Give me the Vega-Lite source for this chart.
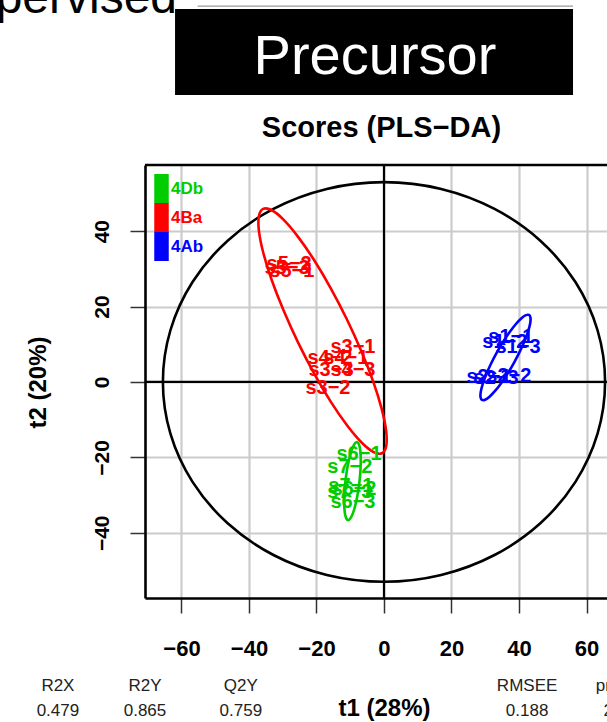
{
  "$schema": "https://vega.github.io/schema/vega-lite/v6.json",
  "width": 462,
  "height": 433,
  "autosize": {"type": "none"},
  "padding": {"left": 145, "top": 165, "right": 0, "bottom": 124},
  "background": "white",
  "config": {
    "view": {"stroke": null},
    "font": "Liberation Sans",
    "axis": {"grid": true, "gridColor": "#cccccc", "gridWidth": 2.2, "tickSize": 15, "tickColor": "#333333", "tickWidth": 1.5, "domainColor": "black", "domainWidth": 2.6,
      "labelFontSize": 22, "labelFontWeight": "bold", "labelColor": "black", "labelFont": "Liberation Sans", "labelFlush": false, "labelOverlap": false,
      "titleFont": "Liberation Sans", "titleFontSize": 24, "titleFontWeight": "bold", "titleColor": "black"},
    "axisX": {"tickCount": 7, "labelBaseline": "alphabetic", "labelPadding": 42, "titleX": 239, "titleY": 117, "titleBaseline": "alphabetic", "titleAlign": "center"},
    "axisY": {"tickCount": 5, "labelAngle": 270, "labelAlign": "center", "labelBaseline": "alphabetic", "labelPadding": 22, "labelFontSize": 21, "titleX": -100, "titleY": 217, "titleAngle": 270, "titleBaseline": "alphabetic", "titleAlign": "center"}
  },
  "datasets": {
    "hot": [
      {"ord": 0, "x": 65.5, "y": 0}, {"ord": 1, "x": 63.27, "y": 13.72}, {"ord": 2, "x": 56.72, "y": 26.5}, {"ord": 3, "x": 46.32, "y": 37.48},
      {"ord": 4, "x": 32.75, "y": 45.9}, {"ord": 5, "x": 16.95, "y": 51.19}, {"ord": 6, "x": 0, "y": 53}, {"ord": 7, "x": -16.95, "y": 51.19},
      {"ord": 8, "x": -32.75, "y": 45.9}, {"ord": 9, "x": -46.32, "y": 37.48}, {"ord": 10, "x": -56.72, "y": 26.5}, {"ord": 11, "x": -63.27, "y": 13.72},
      {"ord": 12, "x": -65.5, "y": 0}, {"ord": 13, "x": -63.27, "y": -13.72}, {"ord": 14, "x": -56.72, "y": -26.5}, {"ord": 15, "x": -46.32, "y": -37.48},
      {"ord": 16, "x": -32.75, "y": -45.9}, {"ord": 17, "x": -16.95, "y": -51.19}, {"ord": 18, "x": 0, "y": -53}, {"ord": 19, "x": 16.95, "y": -51.19},
      {"ord": 20, "x": 32.75, "y": -45.9}, {"ord": 21, "x": 46.32, "y": -37.48}, {"ord": 22, "x": 56.72, "y": -26.5}, {"ord": 23, "x": 63.27, "y": -13.72}
    ],
    "ell": [
      {"grp": "4Ba", "ord": 0, "x": -35.8, "y": 45.9}, {"grp": "4Ba", "ord": 1, "x": -33.34, "y": 45.61}, {"grp": "4Ba", "ord": 2, "x": -29.84, "y": 43.13},
      {"grp": "4Ba", "ord": 3, "x": -25.56, "y": 38.62}, {"grp": "4Ba", "ord": 4, "x": -20.76, "y": 32.41}, {"grp": "4Ba", "ord": 5, "x": -15.8, "y": 24.91},
      {"grp": "4Ba", "ord": 6, "x": -11.0, "y": 16.63}, {"grp": "4Ba", "ord": 7, "x": -6.7, "y": 8.13}, {"grp": "4Ba", "ord": 8, "x": -3.16, "y": 0.01},
      {"grp": "4Ba", "ord": 9, "x": -0.66, "y": -7.2}, {"grp": "4Ba", "ord": 10, "x": 0.64, "y": -13.0}, {"grp": "4Ba", "ord": 11, "x": 0.66, "y": -16.99},
      {"grp": "4Ba", "ord": 12, "x": -0.6, "y": -18.9}, {"grp": "4Ba", "ord": 13, "x": -3.06, "y": -18.61}, {"grp": "4Ba", "ord": 14, "x": -6.56, "y": -16.13},
      {"grp": "4Ba", "ord": 15, "x": -10.84, "y": -11.62}, {"grp": "4Ba", "ord": 16, "x": -15.64, "y": -5.41}, {"grp": "4Ba", "ord": 17, "x": -20.6, "y": 2.09},
      {"grp": "4Ba", "ord": 18, "x": -25.4, "y": 10.37}, {"grp": "4Ba", "ord": 19, "x": -29.7, "y": 18.87}, {"grp": "4Ba", "ord": 20, "x": -33.24, "y": 26.99},
      {"grp": "4Ba", "ord": 21, "x": -35.74, "y": 34.2}, {"grp": "4Ba", "ord": 22, "x": -37.04, "y": 40.0}, {"grp": "4Ba", "ord": 23, "x": -37.06, "y": 43.99},
      {"grp": "4Ab", "ord": 0, "x": 42.96, "y": 17.77}, {"grp": "4Ab", "ord": 1, "x": 43.39, "y": 17.06}, {"grp": "4Ab", "ord": 2, "x": 43.33, "y": 15.62},
      {"grp": "4Ab", "ord": 3, "x": 42.75, "y": 13.56}, {"grp": "4Ab", "ord": 4, "x": 41.72, "y": 11.03}, {"grp": "4Ab", "ord": 5, "x": 40.3, "y": 8.18},
      {"grp": "4Ab", "ord": 6, "x": 38.59, "y": 5.22}, {"grp": "4Ab", "ord": 7, "x": 36.7, "y": 2.34}, {"grp": "4Ab", "ord": 8, "x": 34.76, "y": -0.25},
      {"grp": "4Ab", "ord": 9, "x": 32.91, "y": -2.38}, {"grp": "4Ab", "ord": 10, "x": 31.27, "y": -3.9}, {"grp": "4Ab", "ord": 11, "x": 29.95, "y": -4.72},
      {"grp": "4Ab", "ord": 12, "x": 29.04, "y": -4.77}, {"grp": "4Ab", "ord": 13, "x": 28.61, "y": -4.06}, {"grp": "4Ab", "ord": 14, "x": 28.67, "y": -2.62},
      {"grp": "4Ab", "ord": 15, "x": 29.25, "y": -0.56}, {"grp": "4Ab", "ord": 16, "x": 30.28, "y": 1.97}, {"grp": "4Ab", "ord": 17, "x": 31.7, "y": 4.82},
      {"grp": "4Ab", "ord": 18, "x": 33.41, "y": 7.78}, {"grp": "4Ab", "ord": 19, "x": 35.3, "y": 10.66}, {"grp": "4Ab", "ord": 20, "x": 37.24, "y": 13.25},
      {"grp": "4Ab", "ord": 21, "x": 39.09, "y": 15.38}, {"grp": "4Ab", "ord": 22, "x": 40.73, "y": 16.9}, {"grp": "4Ab", "ord": 23, "x": 42.05, "y": 17.72},
      {"grp": "4Db", "ord": 0, "x": -8.0, "y": -15.96}, {"grp": "4Db", "ord": 1, "x": -7.52, "y": -16.36}, {"grp": "4Db", "ord": 2, "x": -7.15, "y": -17.46},
      {"grp": "4Db", "ord": 3, "x": -6.93, "y": -19.14}, {"grp": "4Db", "ord": 4, "x": -6.88, "y": -21.31}, {"grp": "4Db", "ord": 5, "x": -7.0, "y": -23.82},
      {"grp": "4Db", "ord": 6, "x": -7.27, "y": -26.51}, {"grp": "4Db", "ord": 7, "x": -7.68, "y": -29.18}, {"grp": "4Db", "ord": 8, "x": -8.22, "y": -31.65},
      {"grp": "4Db", "ord": 9, "x": -8.81, "y": -33.76}, {"grp": "4Db", "ord": 10, "x": -9.45, "y": -35.36}, {"grp": "4Db", "ord": 11, "x": -10.08, "y": -36.34},
      {"grp": "4Db", "ord": 12, "x": -10.66, "y": -36.64}, {"grp": "4Db", "ord": 13, "x": -11.14, "y": -36.24}, {"grp": "4Db", "ord": 14, "x": -11.51, "y": -35.14},
      {"grp": "4Db", "ord": 15, "x": -11.73, "y": -33.46}, {"grp": "4Db", "ord": 16, "x": -11.78, "y": -31.29}, {"grp": "4Db", "ord": 17, "x": -11.66, "y": -28.78},
      {"grp": "4Db", "ord": 18, "x": -11.39, "y": -26.09}, {"grp": "4Db", "ord": 19, "x": -10.98, "y": -23.42}, {"grp": "4Db", "ord": 20, "x": -10.44, "y": -20.95},
      {"grp": "4Db", "ord": 21, "x": -9.85, "y": -18.84}, {"grp": "4Db", "ord": 22, "x": -9.21, "y": -17.24}, {"grp": "4Db", "ord": 23, "x": -8.58, "y": -16.26}
    ],
    "samples": [
      {"grp": "4Ba", "name": "s3−1", "x": -9.2, "y": 9.3},
      {"grp": "4Ba", "name": "s4−2", "x": -16.0, "y": 6.4},
      {"grp": "4Ba", "name": "s4−1", "x": -11.3, "y": 6.4},
      {"grp": "4Ba", "name": "s3−3", "x": -15.7, "y": 3.2},
      {"grp": "4Ba", "name": "s4−3", "x": -9.2, "y": 3.2},
      {"grp": "4Ba", "name": "s3−2", "x": -16.6, "y": -1.6},
      {"grp": "4Ba", "name": "s5−3", "x": -28.7, "y": 30.2},
      {"grp": "4Ba", "name": "s5−1", "x": -27.3, "y": 29.4},
      {"grp": "4Ba", "name": "s5−2", "x": -28.1, "y": 31.3},
      {"grp": "4Ab", "name": "s1−1", "x": 37.6, "y": 11.9},
      {"grp": "4Ab", "name": "s1−2", "x": 35.8, "y": 10.6},
      {"grp": "4Ab", "name": "s1−3", "x": 39.7, "y": 9.3},
      {"grp": "4Ab", "name": "s2−1", "x": 31.1, "y": 1.3},
      {"grp": "4Ab", "name": "s2−3", "x": 33.2, "y": 1.1},
      {"grp": "4Ab", "name": "s2−2", "x": 37.0, "y": 1.6},
      {"grp": "4Db", "name": "s6−1", "x": -7.4, "y": -19.1},
      {"grp": "4Db", "name": "s7−2", "x": -10.1, "y": -22.5},
      {"grp": "4Db", "name": "s7−1", "x": -9.8, "y": -27.6},
      {"grp": "4Db", "name": "s6−2", "x": -8.9, "y": -28.4},
      {"grp": "4Db", "name": "s7−3", "x": -10.1, "y": -29.2},
      {"grp": "4Db", "name": "s6−3", "x": -9.2, "y": -31.8}
    ]
  },
  "layer": [
    {
      "data": {"values": [{}]},
      "mark": {"type": "rule", "color": "black", "strokeWidth": 2.2},
      "encoding": {"x": {"datum": 0, "type": "quantitative", "scale": {"domain": [-70.8, 66.07], "nice": false, "zero": false}}}
    },
    {
      "data": {"values": [{}]},
      "mark": {"type": "rule", "color": "black", "strokeWidth": 2.2},
      "encoding": {"y": {"datum": 0, "type": "quantitative", "scale": {"domain": [-57.3, 57.55], "nice": false, "zero": false}}}
    },
    {
      "data": {"values": [{}]},
      "mark": {"type": "rule", "color": "black", "strokeWidth": 2.6},
      "encoding": {"y": {"datum": 57.55, "type": "quantitative", "scale": {"domain": [-57.3, 57.55], "nice": false, "zero": false}}}
    },
    {
      "data": {"name": "hot"},
      "mark": {"type": "line", "color": "black", "strokeWidth": 2.6, "interpolate": "cardinal-closed"},
      "encoding": {
        "x": {"field": "x", "type": "quantitative", "scale": {"domain": [-70.8, 66.07], "nice": false, "zero": false}},
        "y": {"field": "y", "type": "quantitative", "scale": {"domain": [-57.3, 57.55], "nice": false, "zero": false}},
        "order": {"field": "ord", "type": "quantitative"}
      }
    },
    {
      "data": {"name": "ell"},
      "mark": {"type": "line", "strokeWidth": 2.6, "interpolate": "cardinal-closed"},
      "encoding": {
        "x": {"field": "x", "type": "quantitative", "scale": {"domain": [-70.8, 66.07], "nice": false, "zero": false}},
        "y": {"field": "y", "type": "quantitative", "scale": {"domain": [-57.3, 57.55], "nice": false, "zero": false}},
        "order": {"field": "ord", "type": "quantitative"},
        "color": {"field": "grp", "type": "nominal", "scale": {"domain": ["4Db", "4Ba", "4Ab"], "range": ["#00CD00", "#FF0000", "#0000FF"]}}
      }
    },
    {
      "data": {"name": "samples"},
      "mark": {"type": "text", "fontSize": 20, "fontWeight": "bold", "align": "center", "baseline": "middle", "font": "Liberation Sans"},
      "encoding": {
        "x": {"field": "x", "type": "quantitative", "scale": {"domain": [-70.8, 66.07], "nice": false, "zero": false}, "axis": {"title": "t1 (28%)"}},
        "y": {"field": "y", "type": "quantitative", "scale": {"domain": [-57.3, 57.55], "nice": false, "zero": false}, "axis": {"title": "t2 (20%)"}},
        "text": {"field": "name", "type": "nominal"},
        "color": {"field": "grp", "type": "nominal", "scale": {"domain": ["4Db", "4Ba", "4Ab"], "range": ["#00CD00", "#FF0000", "#0000FF"]},
          "legend": {"orient": "none", "legendX": 2, "legendY": 9, "title": null, "padding": 0, "symbolType": "M-0.5,-1H0.5V1H-0.5Z", "symbolSize": 841, "symbolStrokeWidth": 0, "rowPadding": 0,
            "labelFontSize": 17, "labelFontWeight": "bold", "labelFont": "Liberation Sans", "labelOffset": -5,
            "encode": {"labels": {"update": {"fill": {"scale": "color", "field": "value"}}}, "symbols": {"update": {"fill": {"scale": "color", "field": "value"}, "opacity": {"value": 1}}}}}}
      }
    },
    {
      "data": {"values": [{}]},
      "mark": {"type": "text", "text": "Scores (PLS−DA)", "fontSize": 29, "fontWeight": "bold", "color": "black", "align": "center", "baseline": "alphabetic", "font": "Liberation Sans"},
      "encoding": {
        "x": {"datum": -0.74, "type": "quantitative", "scale": {"domain": [-70.8, 66.07], "nice": false, "zero": false}},
        "y": {"datum": 65.0, "type": "quantitative", "scale": {"domain": [-57.3, 57.55], "nice": false, "zero": false}}
      }
    },
    {
      "data": {"values": [{}]},
      "mark": {"type": "rect", "color": "black"},
      "encoding": {
        "x": {"datum": -61.9, "type": "quantitative", "scale": {"domain": [-70.8, 66.07], "nice": false, "zero": false}},
        "x2": {"datum": 56.0},
        "y": {"datum": 76.1, "type": "quantitative", "scale": {"domain": [-57.3, 57.55], "nice": false, "zero": false}},
        "y2": {"datum": 98.9}
      }
    },
    {
      "data": {"values": [{}]},
      "mark": {"type": "rule", "color": "#999999", "strokeWidth": 1.2},
      "encoding": {
        "x": {"datum": -55.2, "type": "quantitative", "scale": {"domain": [-70.8, 66.07], "nice": false, "zero": false}},
        "x2": {"datum": 56.0},
        "y": {"datum": 99.7, "type": "quantitative", "scale": {"domain": [-57.3, 57.55], "nice": false, "zero": false}}
      }
    },
    {
      "data": {"values": [{}]},
      "mark": {"type": "text", "text": "Precursor", "fontSize": 56, "color": "white", "align": "center", "baseline": "alphabetic", "font": "Liberation Sans"},
      "encoding": {
        "x": {"datum": -2.67, "type": "quantitative", "scale": {"domain": [-70.8, 66.07], "nice": false, "zero": false}},
        "y": {"datum": 81.7, "type": "quantitative", "scale": {"domain": [-57.3, 57.55], "nice": false, "zero": false}}
      }
    },
    {
      "data": {"values": [{}]},
      "mark": {"type": "text", "text": "Supervised", "fontSize": 48, "color": "black", "align": "right", "baseline": "alphabetic", "font": "Liberation Sans"},
      "encoding": {
        "x": {"datum": -61.3, "type": "quantitative", "scale": {"domain": [-70.8, 66.07], "nice": false, "zero": false}},
        "y": {"datum": 97.9, "type": "quantitative", "scale": {"domain": [-57.3, 57.55], "nice": false, "zero": false}}
      }
    },
    {
      "data": {"values": [{}]},
      "mark": {"type": "text", "text": ["R2X", "0.479"], "fontSize": 17, "lineHeight": 25, "color": "#222222", "align": "center", "baseline": "alphabetic", "font": "Liberation Sans"},
      "encoding": {
        "x": {"datum": -96.6, "type": "quantitative", "scale": {"domain": [-70.8, 66.07], "nice": false, "zero": false}},
        "y": {"datum": -82.0, "type": "quantitative", "scale": {"domain": [-57.3, 57.55], "nice": false, "zero": false}}
      }
    },
    {
      "data": {"values": [{}]},
      "mark": {"type": "text", "text": ["R2Y", "0.865"], "fontSize": 17, "lineHeight": 25, "color": "#222222", "align": "center", "baseline": "alphabetic", "font": "Liberation Sans"},
      "encoding": {
        "x": {"datum": -70.8, "type": "quantitative", "scale": {"domain": [-70.8, 66.07], "nice": false, "zero": false}},
        "y": {"datum": -82.0, "type": "quantitative", "scale": {"domain": [-57.3, 57.55], "nice": false, "zero": false}}
      }
    },
    {
      "data": {"values": [{}]},
      "mark": {"type": "text", "text": ["Q2Y", "0.759"], "fontSize": 17, "lineHeight": 25, "color": "#222222", "align": "center", "baseline": "alphabetic", "font": "Liberation Sans"},
      "encoding": {
        "x": {"datum": -42.4, "type": "quantitative", "scale": {"domain": [-70.8, 66.07], "nice": false, "zero": false}},
        "y": {"datum": -82.0, "type": "quantitative", "scale": {"domain": [-57.3, 57.55], "nice": false, "zero": false}}
      }
    },
    {
      "data": {"values": [{}]},
      "mark": {"type": "text", "text": ["RMSEE", "0.188"], "fontSize": 17, "lineHeight": 25, "color": "#222222", "align": "center", "baseline": "alphabetic", "font": "Liberation Sans"},
      "encoding": {
        "x": {"datum": 42.4, "type": "quantitative", "scale": {"domain": [-70.8, 66.07], "nice": false, "zero": false}},
        "y": {"datum": -82.0, "type": "quantitative", "scale": {"domain": [-57.3, 57.55], "nice": false, "zero": false}}
      }
    },
    {
      "data": {"values": [{}]},
      "mark": {"type": "text", "text": ["pre", "2"], "fontSize": 17, "lineHeight": 25, "color": "#222222", "align": "center", "baseline": "alphabetic", "font": "Liberation Sans"},
      "encoding": {
        "x": {"datum": 66.4, "type": "quantitative", "scale": {"domain": [-70.8, 66.07], "nice": false, "zero": false}},
        "y": {"datum": -82.0, "type": "quantitative", "scale": {"domain": [-57.3, 57.55], "nice": false, "zero": false}}
      }
    }
  ]
}
